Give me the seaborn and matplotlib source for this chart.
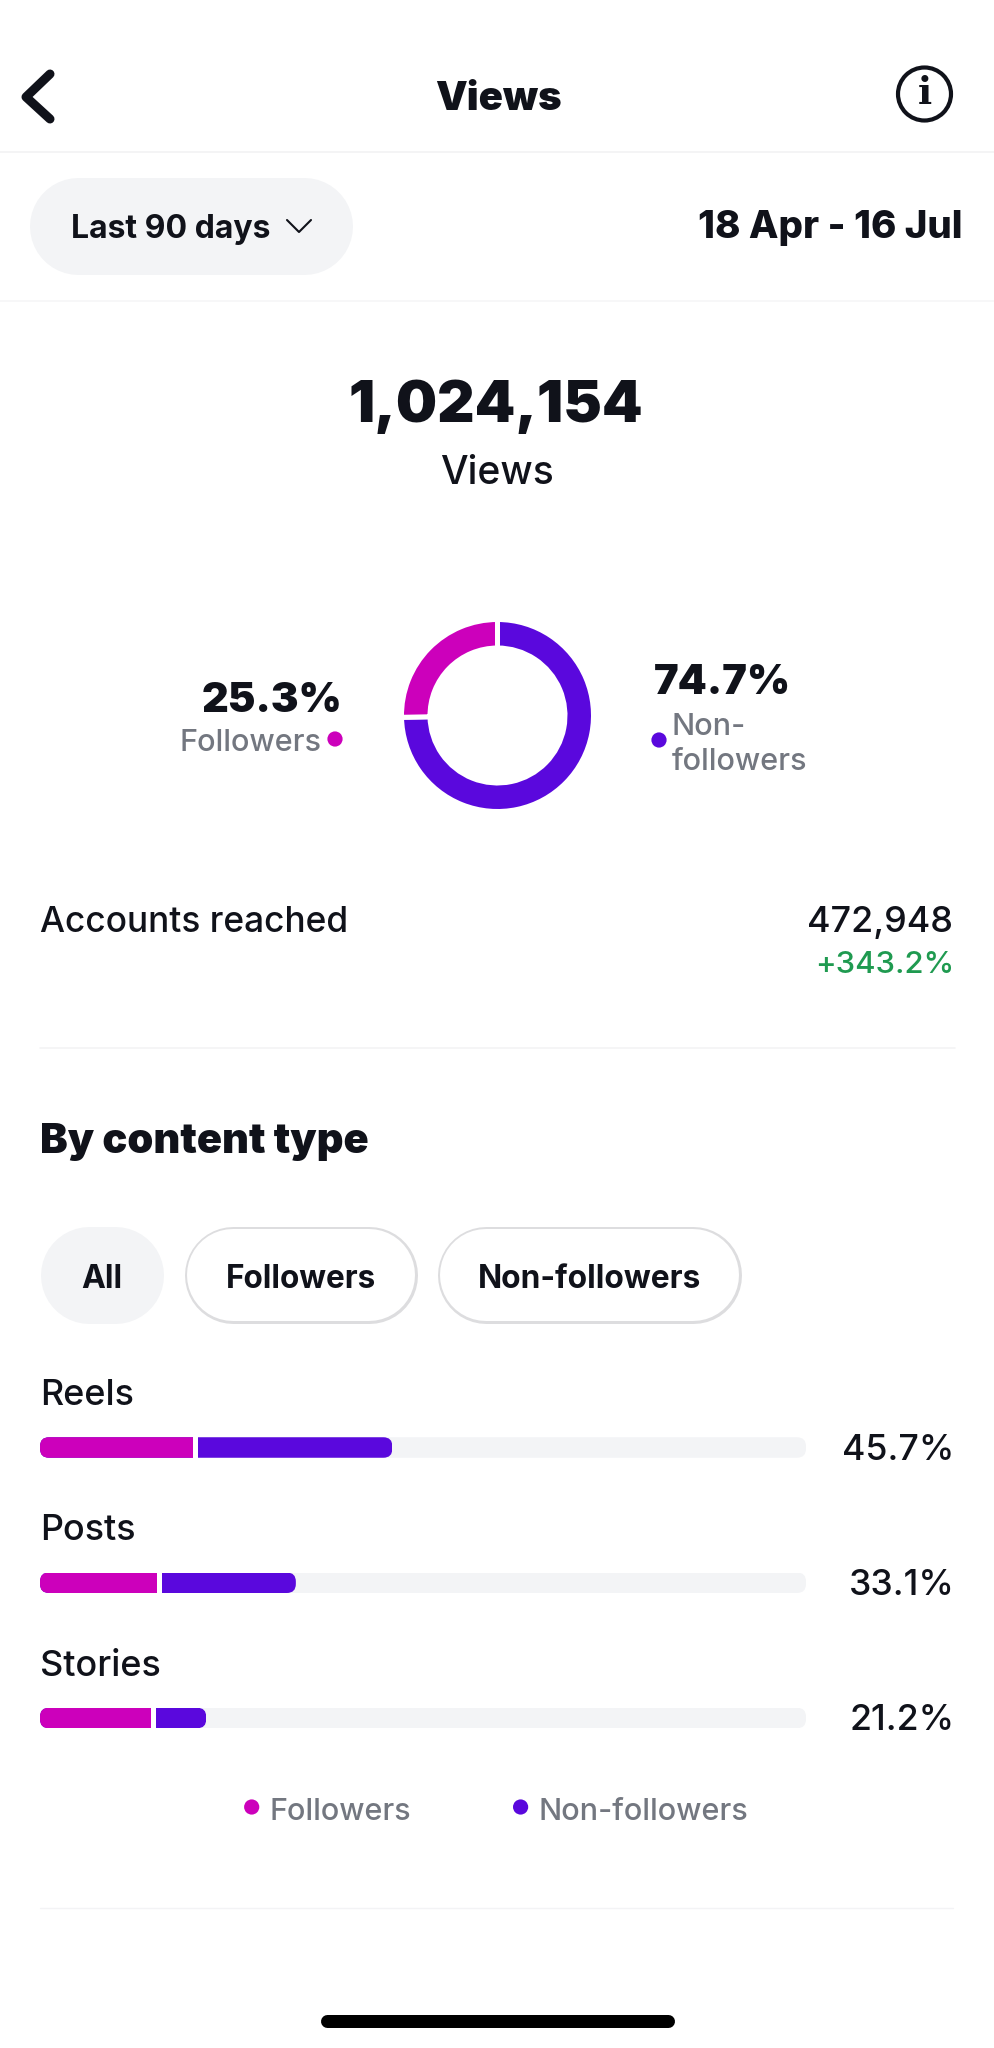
import matplotlib
matplotlib.use("Agg")
import matplotlib.pyplot as plt
import seaborn as sns
from matplotlib.patches import FancyBboxPatch, Circle

sns.set_theme(style="white")
plt.rcParams['font.family'] = ['Inter', 'DejaVu Sans']

W, H = 994, 2048

# donut
donut_labels = ["Non-followers", "Followers"]
donut_values = [74.7, 25.3]

# content type rows (share of the whole track)
categories = ["Reels", "Posts", "Stories"]
followers = [20.3, 15.5, 14.8]
non_followers = [25.7, 17.9, 6.9]
pct_labels = ["45.7%", "33.1%", "21.2%"]

MAGENTA = "#cc00bb"
PURPLE = "#5a08dd"
INK = "#10121a"
GREY = "#737780"
TRACK = "#f3f4f6"
LINE = "#f3f3f5"


def px_axes(left, top, width, height, **kw):
    ax = fig.add_axes([left / W, 1 - (top + height) / H, width / W, height / H], **kw)
    ax.patch.set_alpha(0)
    return ax


def txt(x, y, s, px, weight="normal", color=INK, ha="left", **kw):
    # y is the baseline, size in pixels
    bg.text(x, y, s, fontsize=px * 0.72, fontweight=weight, color=color, ha=ha, va="baseline", **kw)


def pill(x0, y0, x1, y1, color, border=None):
    # thick line with round caps gives true half circles at the ends
    h = y1 - y0
    yc = (y0 + y1) / 2
    if border:
        bg.plot([x0 + h / 2, x1 - h / 2], [yc, yc], color=border, lw=h * 0.72, solid_capstyle="round")
        h -= 5
    bg.plot([x0 + (y1 - y0) / 2, x1 - (y1 - y0) / 2], [yc, yc], color=color, lw=h * 0.72, solid_capstyle="round")


fig = plt.figure(figsize=(W / 100, H / 100), dpi=100, facecolor="white")
bg = fig.add_axes([0, 0, 1, 1])
bg.set_xlim(0, W)
bg.set_ylim(H, 0)
bg.axis("off")

# header
bg.plot([50, 26, 50], [74, 97, 119], color=INK, lw=6.5, solid_capstyle="round", solid_joinstyle="round")
txt(498, 110, "Views", 40, "black", ha="center")
bg.add_patch(Circle((924.5, 94), 26.5, fill=False, ec=INK, lw=3))
bg.text(924.5, 94, "i", fontsize=27, fontweight="bold", family="DejaVu Serif", color=INK, ha="center", va="center")
bg.axhline(152, color=LINE, lw=1.3)

pill(29, 177, 352, 274, TRACK)
txt(71, 238, "Last 90 days", 32, "bold")
bg.plot([287, 299, 311], [220, 232, 220], color=INK, lw=1.5)
txt(962, 238, "18 Apr - 16 Jul", 38.5, "heavy", ha="right")
bg.axhline(301, color="#f7f7f8", lw=1.3)

txt(496, 422, "1,024,154", 58, "black", ha="center")
txt(497, 484, "Views", 39, "medium", ha="center")

# donut, white edges make the gaps
ax_donut = px_axes(497.5 - 96, 715.5 - 96, 192, 192)
ax_donut.pie(donut_values, colors=[PURPLE, MAGENTA], startangle=90, counterclock=False, radius=1,
             wedgeprops=dict(width=0.297, edgecolor="white", linewidth=3.6))
ax_donut.set_xlim(-1, 1)
ax_donut.set_ylim(-1, 1)

txt(342, 712, f"{donut_values[1]}%", 41.5, "black", ha="right")
txt(321, 751, donut_labels[1], 30.6, "medium", color=GREY, ha="right")
bg.add_patch(Circle((335, 739), 7.6, fc=MAGENTA, ec="none"))
txt(654, 694, f"{donut_values[0]}%", 41.5, "black")
txt(672, 735, "Non-", 30.6, "medium", color=GREY)
txt(672, 770, "followers", 30.6, "medium", color=GREY)
bg.add_patch(Circle((659, 740), 7.6, fc=PURPLE, ec="none"))

# accounts reached
txt(40.5, 932, "Accounts reached", 35.3, "medium")
txt(953, 932, "472,948", 36, "medium", ha="right")
txt(954, 973, "+343.2%", 31, "medium", color="#1f9a50", ha="right")
bg.plot([40, 955], [1048, 1048], color=LINE, lw=1.2)

txt(40.5, 1153, "By content type", 41.5, "black")

# filter pills
pill(40, 1226, 163, 1323, TRACK)
pill(184.5, 1226, 417.5, 1323, "white", border="#dddddf")
pill(437.5, 1226, 741, 1323, "white", border="#dddddf")
txt(101.5, 1288, "All", 32, "bold", ha="center")
txt(301, 1288, "Followers", 31.5, "bold", ha="center")
txt(590, 1288, "Non-followers", 31.7, "bold", ha="center")

# bars
ROW = 135.25
TRACK_X0, TRACK_W = 40, 766
BAR = 20.5 / ROW
ax = px_axes(TRACK_X0, 1447.5 - ROW / 2, TRACK_W, ROW * 3)
totals = [f + n for f, n in zip(followers, non_followers)]
bar_kw = dict(saturation=1, width=BAR, orient="h", linewidth=0, ax=ax)
sns.barplot(x=[100] * len(categories), y=categories, color=TRACK, **bar_kw)
sns.barplot(x=totals, y=categories, color=PURPLE, **bar_kw)
sns.barplot(x=followers, y=categories, color=MAGENTA, **bar_kw)
ax.set_xlim(0, 100)
ax.set_ylim(2.5, -0.5)
ax.axis("off")

# rounded ends: clip each bar to a rounded box
px_x = TRACK_W / 100
aspect = px_x / ROW
r = 9 / px_x
n = len(categories)
for i, b in enumerate(ax.patches):
    row = i % n
    end = 100 if i < n else totals[row]
    clip = FancyBboxPatch((0, row - BAR / 2), end, BAR, boxstyle=f"round,pad=0,rounding_size={r}",
                          mutation_aspect=aspect, transform=ax.transData)
    b.set_clip_path(clip)

for i, f in enumerate(followers):
    ax.vlines(f, i - BAR / 2 - 0.01, i + BAR / 2 + 0.01, color="white", lw=3.6)

for i, (c, p) in enumerate(zip(categories, pct_labels)):
    y = 1447.5 + i * ROW
    txt(40.5, y - 42.5, c, 36, "medium")
    txt(954.5, y + 12, p, 35.7, "medium", ha="right")

# bottom legend
bg.add_patch(Circle((251.7, 1807), 7.6, fc=MAGENTA, ec="none"))
txt(270, 1820, "Followers", 30.5, "medium", color=GREY)
bg.add_patch(Circle((520.6, 1807), 7.6, fc=PURPLE, ec="none"))
txt(538.5, 1820, "Non-followers", 30.6, "medium", color=GREY)
bg.plot([40, 953], [1908, 1908], color=LINE, lw=1)

# home bar
pill(320, 2014, 674, 2027, "black")

fig.savefig("out.png", dpi=100)
